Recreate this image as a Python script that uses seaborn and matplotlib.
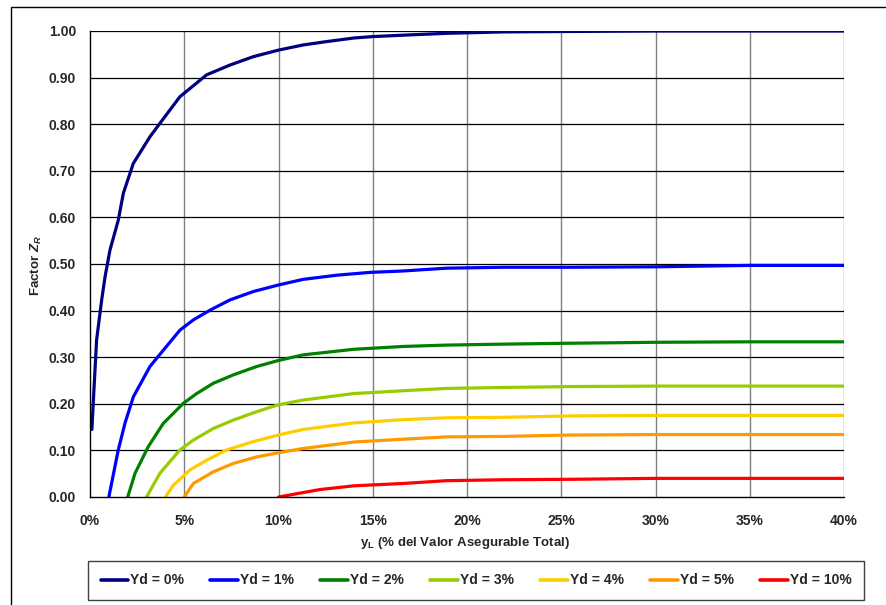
import pandas as pd
import matplotlib
matplotlib.use("Agg")
import matplotlib.pyplot as plt
from matplotlib.patches import Rectangle
import seaborn as sb

sb.set_style("white")
plt.rcParams['font.family'] = ['Liberation Sans', 'DejaVu Sans']
plt.rcParams['font.weight'] = 'bold'
plt.rcParams['mathtext.fontset'] = 'custom'
plt.rcParams['mathtext.rm'] = 'Liberation Sans:bold'
plt.rcParams['mathtext.it'] = 'Liberation Sans:bold:italic'

# curves, x in % of total insurable value
x_yd0 = [0.1, 0.18, 0.35, 0.62, 0.8, 1.06, 1.5, 1.77, 2.3, 3.18, 3.71, 4.77, 6.19, 7.43, 8.67,
         10.0, 11.3, 12.5, 14.0, 15.0, 16.6, 18.9, 21.9, 25.5, 30, 35, 40]
z_yd0 = [0.145, 0.208, 0.337, 0.423, 0.473, 0.53, 0.594, 0.652, 0.716, 0.773, 0.802, 0.859, 0.906,
         0.927, 0.945, 0.959, 0.970, 0.977, 0.985, 0.988, 0.991, 0.995, 0.998, 0.999, 1.0, 1.0, 1.0]

x_yd1 = [1.0, 1.5, 1.86, 2.3, 3.18, 3.89, 4.77, 5.48, 6.37, 7.43, 8.67, 10.0, 11.3, 13.1, 14.85,
         16.6, 18.9, 21.9, 25.5, 30, 35, 40]
z_yd1 = [0, 0.101, 0.159, 0.215, 0.28, 0.315, 0.358, 0.38, 0.401, 0.423, 0.441, 0.455, 0.467,
         0.476, 0.482, 0.485, 0.491, 0.493, 0.493, 0.494, 0.497, 0.497]

x_yd2 = [2.0, 2.39, 3.09, 3.89, 4.95, 5.66, 6.54, 7.6, 8.84, 10.0, 11.3, 14.0, 16.6, 18.9, 21.9,
         25.5, 30, 35, 40]
z_yd2 = [0, 0.051, 0.108, 0.158, 0.201, 0.222, 0.244, 0.262, 0.28, 0.293, 0.305, 0.317, 0.323,
         0.326, 0.328, 0.33, 0.332, 0.333, 0.333]

x_yd3 = [3.0, 3.71, 4.77, 5.48, 6.54, 7.6, 8.84, 10.0, 11.3, 14.0, 16.6, 18.9, 21.9, 25.5, 30, 35, 40]
z_yd3 = [0, 0.051, 0.101, 0.122, 0.147, 0.165, 0.183, 0.198, 0.208, 0.222, 0.228, 0.233, 0.235,
         0.237, 0.238, 0.238, 0.238]

x_yd4 = [4.0, 4.42, 5.3, 6.19, 7.25, 8.67, 10.0, 11.3, 14.0, 16.6, 18.9, 21.9, 25.5, 30, 35, 40]
z_yd4 = [0, 0.025, 0.058, 0.079, 0.101, 0.119, 0.133, 0.145, 0.159, 0.166, 0.170, 0.171, 0.174,
         0.175, 0.175, 0.175]

x_yd5 = [5.0, 5.48, 6.54, 7.6, 8.84, 10.0, 11.3, 14.0, 16.6, 18.9, 21.9, 25.5, 30, 35, 40]
z_yd5 = [0, 0.029, 0.054, 0.072, 0.086, 0.095, 0.104, 0.118, 0.124, 0.129, 0.130, 0.133, 0.134,
         0.134, 0.134]

x_yd10 = [10.0, 12.2, 14.0, 16.6, 18.9, 21.9, 25.5, 30, 35, 40]
z_yd10 = [0, 0.016, 0.024, 0.029, 0.035, 0.037, 0.038, 0.040, 0.040, 0.040]

labels = ["Yd = 0%", "Yd = 1%", "Yd = 2%", "Yd = 3%", "Yd = 4%", "Yd = 5%", "Yd = 10%"]
colors = ["#000080", "#0000FF", "#008000", "#99CC00", "#FFCC00", "#FF9900", "#FF0000"]
xs = [x_yd0, x_yd1, x_yd2, x_yd3, x_yd4, x_yd5, x_yd10]
zs = [z_yd0, z_yd1, z_yd2, z_yd3, z_yd4, z_yd5, z_yd10]

df = pd.concat([pd.DataFrame({"yL": x, "Z": z, "serie": lab}) for x, z, lab in zip(xs, zs, labels)],
               ignore_index=True)

fig = plt.figure(figsize=(8.86, 6.05), dpi=100)
ax = fig.add_axes([90/886, 1-497/605, (844-90)/886, (497-31)/605])

sb.lineplot(data=df, x="yL", y="Z", hue="serie", palette=dict(zip(labels, colors)),
            estimator=None, sort=False, linewidth=2.3, ax=ax)

handles, labs = ax.get_legend_handles_labels()
ax.get_legend().remove()
for h in handles:
    h.set_linewidth(2.6)

ax.set_xlim(0, 40)
ax.set_ylim(0, 1.0)
ax.set_xticks(range(0, 41, 5))
ax.set_xticklabels([f"{v}%" for v in range(0, 41, 5)])
ax.set_yticks([i/10 for i in range(11)])
ax.set_yticklabels([f"{i/10:.2f}" for i in range(11)])
ax.tick_params(axis="both", labelsize=10, length=4, width=1, color="black", pad=6, direction="out")
ax.tick_params(axis="x", pad=8)
for lab in ax.get_xticklabels() + ax.get_yticklabels():
    lab.set_fontweight("bold")

for x in range(5, 41, 5):
    ax.axvline(x, color="#808080", lw=1, zorder=0)
for i in range(1, 11):
    ax.axhline(i/10, color="black", lw=0.9, zorder=0)

for s in ["top", "right"]:
    ax.spines[s].set_visible(False)
for s in ["left", "bottom"]:
    ax.spines[s].set_color("black")
    ax.spines[s].set_linewidth(1)

ax.set_xlabel("")
ax.set_ylabel("")
fig.text(465/886, 1-543/605, r"$\mathregular{y_L}$ (% del Valor Asegurable Total)",
         ha="center", va="center", fontsize=9.5, fontweight="bold")
fig.text(36/886, 1-266/605, r"Factor $Z_R$", ha="center", va="center", rotation=90,
         fontsize=9.5, fontweight="bold")

leg = fig.legend(handles, labs, loc="center", ncol=7, mode="expand",
                 bbox_to_anchor=(88/886, 1-600/605, 776/886, 39/605),
                 fancybox=False, edgecolor="#404040", framealpha=1, borderpad=0.9,
                 handlelength=2.0, handletextpad=0.15, borderaxespad=0, prop={"weight": "bold", "size": 10})
leg.get_frame().set_linewidth(1)

fig.patches.append(Rectangle((11/886, -0.05), 1.0, 1-7/605+0.05, transform=fig.transFigure,
                             fill=False, edgecolor="black", lw=1))

plt.savefig("out.png", dpi=100)
